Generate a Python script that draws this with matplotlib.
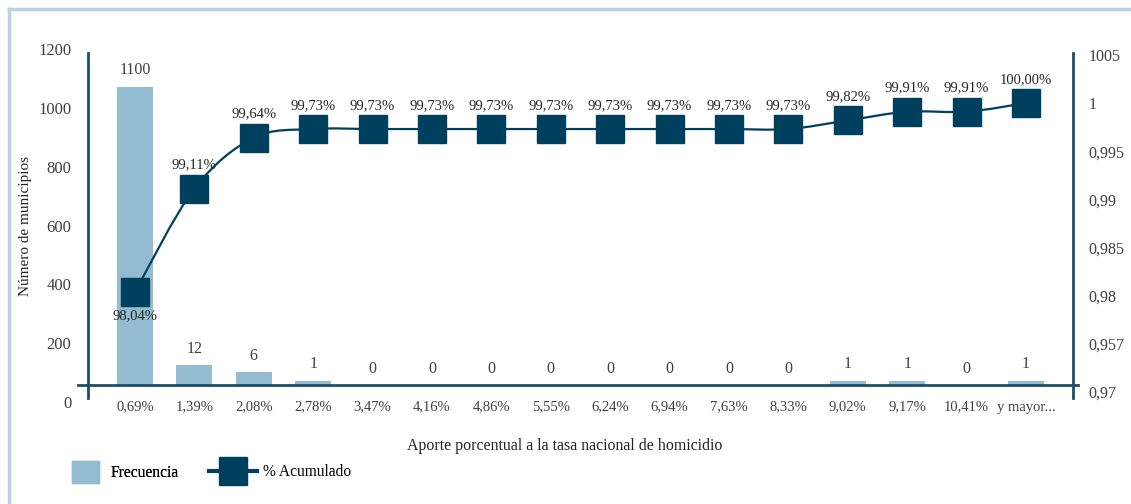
import numpy as np
import matplotlib
matplotlib.use('Agg')
import matplotlib.pyplot as plt
from matplotlib.path import Path
from matplotlib.patches import PathPatch, Patch
from matplotlib.lines import Line2D
import matplotlib.transforms as mtransforms

plt.rcParams['font.family'] = ['Liberation Serif', 'DejaVu Serif']

# data
categorias = ['0,69%', '1,39%', '2,08%', '2,78%', '3,47%', '4,16%', '4,86%', '5,55%',
              '6,24%', '6,94%', '7,63%', '8,33%', '9,02%', '9,17%', '10,41%', 'y mayor...']
frecuencia = [1100, 12, 6, 1, 0, 0, 0, 0, 0, 0, 0, 0, 1, 1, 0, 1]
acumulado = [0.9804, 0.9911, 0.9964, 0.9973, 0.9973, 0.9973, 0.9973, 0.9973,
             0.9973, 0.9973, 0.9973, 0.9973, 0.9982, 0.9991, 0.9991, 1.0000]
acumulado_txt = ['98,04%', '99,11%', '99,64%', '99,73%', '99,73%', '99,73%', '99,73%', '99,73%',
                 '99,73%', '99,73%', '99,73%', '99,73%', '99,82%', '99,91%', '99,91%', '100,00%']
ticks_izq = [0, 200, 400, 600, 800, 1000, 1200]
ticks_der = [0.970, 0.975, 0.980, 0.985, 0.990, 0.995, 1.000, 1.005]
ticks_der_txt = ['0,97', '0,957', '0,98', '0,985', '0,99', '0,995', '1', '1005']

azul_barra = '#93bcd0'
azul_linea = '#00405f'
eje = '#1d4d6b'
gris = '#404040'

W, H = 1131, 504
fig = plt.figure(figsize=(W / 100, H / 100), dpi=100)

def fx(px):
    return px / W

def fy(px):
    return 1 - px / H

x = np.arange(len(categorias))
xlim = (-0.79, 15.79)

# left axis (Número de municipios)
ax = fig.add_axes([fx(88), fy(402), fx(1073) - fx(88), fy(49) - fy(402)])
ax.set_zorder(2)
ax.patch.set_visible(False)
ax.set_xlim(*xlim)
ax.set_ylim(0, 1200)
ax.set_yticks(ticks_izq)
ax.tick_params(axis='y', length=0, pad=12, labelsize=12, labelcolor=gris)
ax.set_xticks(x)
ax.set_xticklabels(categorias)
ax.tick_params(axis='x', length=0, pad=-1, labelsize=10.5, labelcolor=gris)
for s in ['top', 'right', 'bottom']:
    ax.spines[s].set_visible(False)
ax.spines['left'].set_color(eje)
ax.spines['left'].set_linewidth(2)
ax.spines['left'].set_bounds(13.6, 1186.4)
ax.set_ylabel('Número de municipios', fontsize=11, color='#222222')
ax.yaxis.set_label_coords(-0.057, 0.5)

# horizontal axis line, crossing both vertical axes
trans = mtransforms.blended_transform_factory(ax.transAxes, ax.transData)
ax.plot([-0.0102, 1.005], [57.8, 57.8], transform=trans, color=eje, lw=2, clip_on=False)

# bars on their own axis
axb = fig.add_axes([fx(88), fy(385), fx(1073) - fx(88), fy(49) - fy(385)])
axb.set_zorder(1)
axb.set_xlim(*xlim)
axb.set_yscale('function', functions=(lambda v: np.sign(v) * np.abs(v) ** 0.6,
                                      lambda v: np.sign(v) * np.abs(v) ** (1 / 0.6)))
axb.set_ylim(0, 1340)
axb.axis('off')
axb.bar(x, frecuencia, width=0.61, color=azul_barra)
for xi, v in zip(x, frecuencia):
    axb.annotate(str(v), (xi, v), xytext=(0, 6), textcoords='offset points',
                 ha='center', va='bottom', fontsize=11.5, color=gris)

# right axis (% acumulado)
ax2 = ax.twinx()
ax2.set_zorder(3)
ax2.patch.set_visible(False)
ax2.set_xlim(*xlim)
ax2.set_ylim(0.96896, 1.00561)
ax2.set_yticks(ticks_der)
ax2.set_yticklabels(ticks_der_txt)
ax2.tick_params(axis='y', length=0, pad=11, labelsize=11.5, labelcolor=gris)
for s in ['top', 'left', 'bottom']:
    ax2.spines[s].set_visible(False)
ax2.spines['right'].set_color(eje)
ax2.spines['right'].set_linewidth(2)
ax2.spines['right'].set_bounds(0.96938, 1.00519)

# smoothed line (Catmull-Rom style Bezier, like Excel smoothing)
pts = np.column_stack([x, acumulado])
verts = [pts[0]]
codes = [Path.MOVETO]
for i in range(len(pts) - 1):
    p0 = pts[max(i - 1, 0)]
    p1 = pts[i]
    p2 = pts[i + 1]
    p3 = pts[min(i + 2, len(pts) - 1)]
    c1 = p1 + (p2 - p0) / 6
    c2 = p2 - (p3 - p1) / 6
    verts += [c1, c2, p2]
    codes += [Path.CURVE4] * 3
ax2.add_patch(PathPatch(Path(verts, codes), fill=False, edgecolor=azul_linea, lw=1.6))
ax2.plot(x, acumulado, linestyle='none', marker='s', markersize=20,
         color=azul_linea)
for i, (xi, v, t) in enumerate(zip(x, acumulado, acumulado_txt)):
    dy = -17 if i == 0 else 17
    ax2.annotate(t, (xi, v), xytext=(0, dy), textcoords='offset points',
                 ha='center', va='center', fontsize=10.5, color='#262626')

fig.text(fx(565), fy(446), 'Aporte porcentual a la tasa nacional de homicidio',
         ha='center', va='center', fontsize=11.4, color='#222222')

# legends
leg1 = fig.legend(handles=[Patch(color=azul_barra, label='Frecuencia')],
                  loc='center left', bbox_to_anchor=(fx(58), fy(472)), frameon=False,
                  handlelength=1.75, handleheight=1.75, handletextpad=0.7, fontsize=11.2)
leg2 = fig.legend(handles=[Line2D([], [], color=azul_linea, lw=3, marker='s',
                                  markersize=20, label='% Acumulado')],
                  loc='center left', bbox_to_anchor=(fx(195), fy(472)), frameon=False,
                  handlelength=3.1, handletextpad=0.4, fontsize=11.2)
fig.add_artist(leg1)

# light blue frame (top and left)
fig.add_artist(Line2D([fx(9), 1], [fy(9), fy(9)], color='#b8d3e3', lw=2.5))
fig.add_artist(Line2D([fx(9), fx(9)], [fy(9), 0], color='#b8d3e3', lw=2.5))

fig.savefig('out.png', dpi=100)
